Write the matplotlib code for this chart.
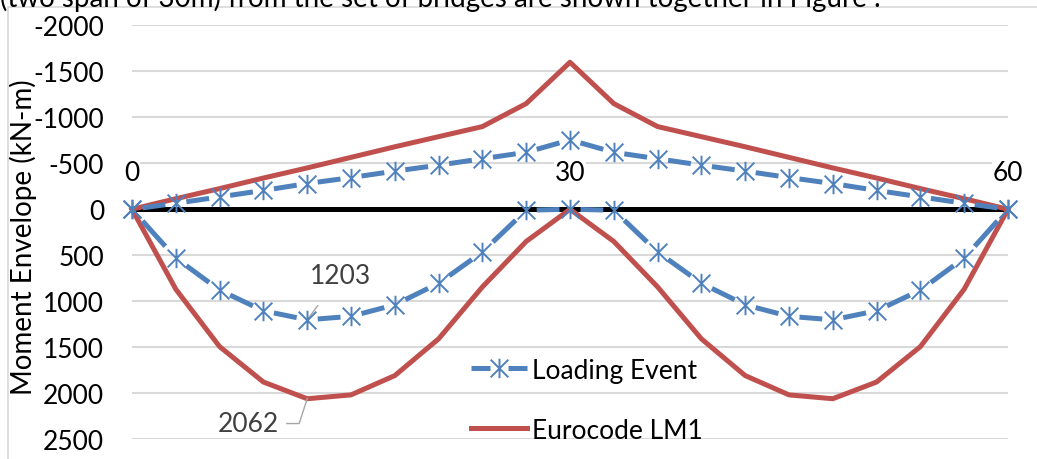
import matplotlib
matplotlib.use("Agg")
import matplotlib.pyplot as plt
from matplotlib.path import Path
from matplotlib.patches import Rectangle
from matplotlib.lines import Line2D

plt.rcParams["font.family"] = ["Lato", "DejaVu Sans"]

# span positions (m)
x = [0, 3, 6, 9, 12, 15, 18, 21, 24, 27, 30,
     33, 36, 39, 42, 45, 48, 51, 54, 57, 60]

# loading event envelope (kN-m)
event_neg = [0, -65, -135, -205, -280, -345, -415, -480, -550, -620, -755,
             -620, -550, -480, -415, -345, -280, -205, -135, -65, 0]
event_pos = [0, 530, 880, 1105, 1203, 1165, 1040, 805, 465, 10, 0,
             10, 465, 805, 1040, 1165, 1203, 1105, 880, 530, 0]

# Eurocode LM1 envelope (kN-m)
ec_neg = [0, -115, -225, -340, -450, -565, -680, -790, -900, -1150, -1600,
          -1150, -900, -790, -680, -565, -450, -340, -225, -115, 0]
ec_pos = [0, 870, 1495, 1880, 2062, 2020, 1810, 1410, 845, 350, 0,
          350, 845, 1410, 1810, 2020, 2062, 1880, 1495, 870, 0]

y_ticks = [-2000, -1500, -1000, -500, 0, 500, 1000, 1500, 2000, 2500]
y_ticklabels = ["-2000", "-1500", "-1000", "-500", "0", "500", "1000", "1500", "2000", "2500"]
span_labels = [0, 30, 60]

blue = "#4f81bd"
red = "#c0504d"
fs = 19

# asterisk marker like Excel's (X plus vertical bar)
star = Path([(-1, -1), (1, 1), (-1, 1), (1, -1), (0, -1.1), (0, 1.1)],
            [Path.MOVETO, Path.LINETO] * 3)

fig = plt.figure(figsize=(10.37, 4.6), dpi=100)
ax = fig.add_axes([0.1273, 0.0435, 0.8447, 0.8989])

fig.text(0.0, 0.985, "(two span of 30m) from the set of bridges are shown together in Figure .",
         fontsize=20, va="baseline", ha="left", color="black")
fig.patches.append(Rectangle((8 / 1037, -0.2), 1.2, 1.2 - 8 / 460,
                             transform=fig.transFigure, fill=False,
                             edgecolor="#d9d9d9", linewidth=1.2))

ax.axhline(0, color="black", lw=3.6, zorder=2)


def dashed_series(xs, ys):
    # Excel style dash: one dash in the middle of every segment
    for i in range(len(xs) - 1):
        x0, x1, y0, y1 = xs[i], xs[i + 1], ys[i], ys[i + 1]
        ax.plot([x0 + 0.24 * (x1 - x0), x0 + 0.76 * (x1 - x0)],
                [y0 + 0.24 * (y1 - y0), y0 + 0.76 * (y1 - y0)],
                color=blue, lw=3.6, solid_capstyle="butt", zorder=4)
    ax.plot(xs, ys, ls="none", marker=star, markersize=14, markeredgewidth=1.4,
            markerfacecolor="none", markeredgecolor=blue, clip_on=False, zorder=5)


dashed_series(x, event_neg)
dashed_series(x, event_pos)

ax.plot(x, ec_neg, color=red, lw=3.6, zorder=3, clip_on=False)
ax.plot(x, ec_pos, color=red, lw=3.6, zorder=3, clip_on=False)

for s in span_labels:
    ax.text(s, -400, str(s), ha="center", va="center", fontsize=fs, zorder=6,
            bbox=dict(facecolor="white", edgecolor="none", pad=0.5))

# data labels with leader lines
ax.annotate("1203", xy=(12, 1203), xytext=(14.25, 723), ha="center", va="center",
            fontsize=fs, color="#404040",
            arrowprops=dict(arrowstyle="-", color="#a6a6a6", lw=1,
                            shrinkA=13, shrinkB=0))
ax.plot([10.6, 11.45, 12], [2332, 2332, 2062], color="#a6a6a6", lw=1, zorder=5)
ax.text(7.95, 2332, "2062", ha="center", va="center", fontsize=fs, color="#404040")

ax.set_xlim(0, 60)
ax.set_ylim(2500, -2000)
ax.set_xticks([])
ax.set_yticks(y_ticks)
ax.set_yticklabels(y_ticklabels)
ax.tick_params(axis="y", length=0, pad=20, labelsize=fs)
ax.grid(axis="y", color="#d9d9d9", lw=1.5, zorder=0)
ax.set_axisbelow(True)
for sp in ax.spines.values():
    sp.set_visible(False)

ax.set_ylabel("Moment Envelope (kN-m)", fontsize=20, va="center")
ax.yaxis.set_label_coords(-0.124, 0.49)

h_ev = Line2D([], [], color=blue, lw=3.6, dashes=(3.8, 3.6), marker=star,
              markersize=14, markeredgewidth=1.4, markerfacecolor="none",
              markeredgecolor=blue, solid_capstyle="butt")
h_ec = Line2D([], [], color=red, lw=3.6)
ax.legend([h_ev, h_ec], ["Loading Event", "Eurocode LM1"], loc="center left",
          bbox_to_anchor=(0.454, 0.128), bbox_transform=fig.transFigure,
          frameon=False, fontsize=fs, handlelength=2.12, handletextpad=0.19,
          labelspacing=1.32, borderpad=0, borderaxespad=0)

fig.savefig("out.png", dpi=100)
